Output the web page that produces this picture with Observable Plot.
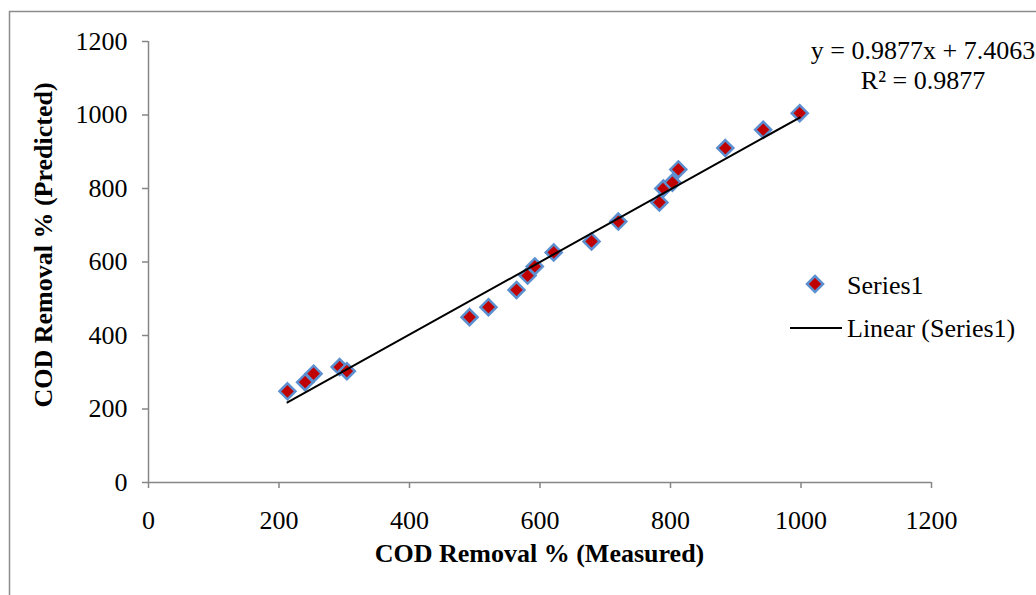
<!DOCTYPE html>
<html><head><meta charset="utf-8">
<script src="https://cdn.jsdelivr.net/npm/d3@7"></script>
<script src="https://cdn.jsdelivr.net/npm/@observablehq/plot@0.6"></script>
<style>html,body{margin:0;padding:0;background:#fff;overflow:hidden}</style>
</head><body><div id="chart"></div>
<script>
const measured  = [213, 240, 253, 293, 304, 492, 521, 564, 581, 592, 621, 679, 720, 783, 789, 803, 812, 884, 942, 998];
const predicted = [248, 273, 296, 314, 303, 450, 477, 524, 563, 588, 626, 656, 710, 762, 800, 816, 852, 910, 960, 1005];
const xTicks = [0, 200, 400, 600, 800, 1000, 1200];
const yTicks = [0, 200, 400, 600, 800, 1000, 1200];
const slope = 0.9877, intercept = 7.4063, rSquared = 0.9877;
const seriesName = "Series1";
const trendName = "Linear (Series1)";
const xTitle = "COD Removal % (Measured)";
const yTitle = "COD Removal % (Predicted)";

const points = measured.map((m, i) => ({m, p: predicted[i]}));
const trend = d3.extent(measured).map(x => ({m: x, p: slope * x + intercept}));

const font = "'Liberation Serif','Times New Roman',serif";
const axisGray = "#868686";
const fillRed = "#C00000";
const strokeBlue = "#5B8FD0";

const W = 1036, H = 595, mL = 148, mR = 105, mT = 41, mB = 113;

const plot = Plot.plot({
  width: W, height: H, marginLeft: mL, marginRight: mR, marginTop: mT, marginBottom: mB,
  style: {fontFamily: font, fontSize: "26px", color: "#000", background: "transparent", overflow: "visible"},
  x: {domain: [0, 1200]},
  y: {domain: [0, 1200]},
  marks: [
    Plot.axisX(xTicks, {tickSize: 6, tickPadding: 22, stroke: axisGray, fill: "#000", strokeWidth: 1.5, tickFormat: d => String(d), label: null}),
    Plot.axisY(yTicks, {tickSize: 6, tickPadding: 15, stroke: axisGray, fill: "#000", strokeWidth: 1.5, tickFormat: d => String(d), label: null}),
    Plot.ruleX([0], {stroke: axisGray, strokeWidth: 1.5}),
    Plot.ruleY([0], {stroke: axisGray, strokeWidth: 1.5}),
    Plot.dot(points, {x: "m", y: "p", symbol: "diamond2", r: 7.2, fill: fillRed, stroke: strokeBlue, strokeWidth: 2.5}),
    Plot.line(trend, {x: "m", y: "p", stroke: "#000", strokeWidth: 2})
  ]
});

const svg = d3.select(plot);
// outer chart border
svg.insert("rect", ":first-child")
  .attr("x", 9.5).attr("y", 11.5).attr("width", W + 20).attr("height", H + 20)
  .attr("fill", "none").attr("stroke", "#8c8c8c").attr("stroke-width", 1.5);

const txt = (s, x, y, opts = {}) => svg.append("text")
  .attr("x", x).attr("y", y)
  .attr("font-family", font).attr("font-size", opts.size || 26)
  .attr("font-weight", opts.bold ? "bold" : "normal")
  .attr("text-anchor", opts.anchor || "start")
  .attr("fill", "#000")
  .attr("transform", opts.transform || null)
  .text(s);

// axis titles
txt(xTitle, (mL + W - mR) / 2, 562, {bold: true, anchor: "middle"});
txt(yTitle, 0, 0, {bold: true, anchor: "middle", transform: `translate(52,245) rotate(-90)`});

// trendline equation
txt(`y = ${slope}x + ${intercept}`, 923, 59, {anchor: "middle"});
txt(`R² = ${rSquared}`, 923, 89, {anchor: "middle"});

// legend
const sym = d3.symbol(d3.symbolDiamond2, Math.PI * 7.2 * 7.2)();
svg.append("path").attr("d", sym).attr("transform", "translate(815,284)")
  .attr("fill", fillRed).attr("stroke", strokeBlue).attr("stroke-width", 2.5);
txt(seriesName, 847, 294);
svg.append("line").attr("x1", 790).attr("x2", 842).attr("y1", 328).attr("y2", 328)
  .attr("stroke", "#000").attr("stroke-width", 2);
txt(trendName, 847, 337);

document.getElementById("chart").appendChild(plot);
</script>
</body></html>
